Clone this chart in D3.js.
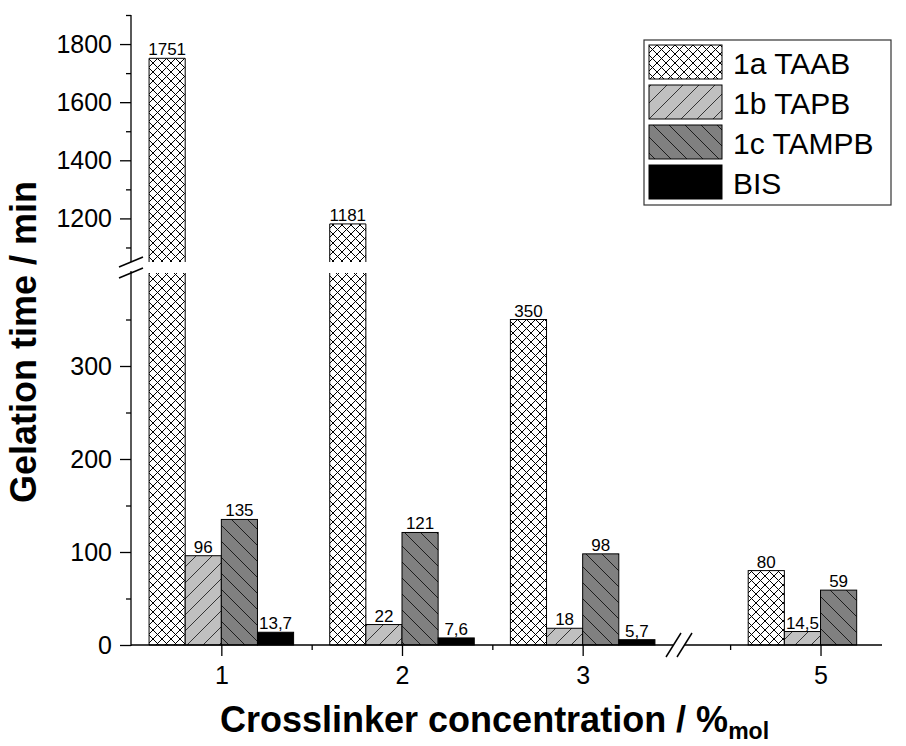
<!DOCTYPE html>
<html>
<head>
<meta charset="utf-8">
<script src="https://cdn.jsdelivr.net/npm/d3@7"></script>
<style>
  body { margin: 0; background: #fff; }
  svg { display: block; font-family: Arial, "Liberation Sans", sans-serif; }
</style>
</head>
<body>
<script>
// data
var concentrations = [1, 2, 3, 5];
var seriesNames = ["1a TAAB", "1b TAPB", "1c TAMPB", "BIS"];
var taab = [1751, 1181, 350, 80];
var tapb = [96, 22, 18, 14.5];
var tampb = [135, 121, 98, 59];
var bis = [13.7, 7.6, 5.7, null];
var lowTicks = [0, 100, 200, 300];
var lowMinor = [50, 150, 250, 350];
var highTicks = [1200, 1400, 1600, 1800];
var highMinor = [1100, 1300, 1500, 1700, 1900];
var xMinor = [1.5, 2.5, 4.5];

var width = 906, height = 746;
var svg = d3.select("body").append("svg")
  .attr("width", width).attr("height", height);

// x axis has a break between 3 and 5
var x = d3.scaleLinear()
  .domain([0.5, 3.5, 4.245, 5.34])
  .range([131, 673, 684, 882]);
// y axis has a break between 400 and 1050
var yLow = d3.scaleLinear().domain([0, 400]).range([645, 273]);
var yHigh = d3.scaleLinear().domain([1050, 1900]).range([262, 15]);
var breakLo = 400, breakHi = 1050;

var barW = 0.2; // in concentration units

var defs = svg.append("defs");
var cross = defs.append("pattern").attr("id", "pCross")
  .attr("patternUnits", "userSpaceOnUse").attr("width", 9).attr("height", 9);
cross.append("rect").attr("width", 9).attr("height", 9).attr("fill", "#fff");
cross.append("path").attr("d", "M0,0L9,9M9,0L0,9")
  .attr("stroke", "#000").attr("stroke-width", 1);

var fwd = defs.append("pattern").attr("id", "pFwd")
  .attr("patternUnits", "userSpaceOnUse").attr("width", 16).attr("height", 16);
fwd.append("rect").attr("width", 16).attr("height", 16).attr("fill", "#c0c0c0");
fwd.append("path").attr("d", "M0,16L16,0M-4,4L4,-4M12,20L20,12")
  .attr("stroke", "#222").attr("stroke-width", 0.9);

var back = defs.append("pattern").attr("id", "pBack")
  .attr("patternUnits", "userSpaceOnUse").attr("width", 16).attr("height", 16);
back.append("rect").attr("width", 16).attr("height", 16).attr("fill", "#808080");
back.append("path").attr("d", "M0,0L16,16M-4,12L4,20M12,-4L20,4")
  .attr("stroke", "#111").attr("stroke-width", 0.9);

var fills = ["url(#pCross)", "url(#pFwd)", "url(#pBack)", "#000"];
var allSeries = [taab, tapb, tampb, bis];

function fmt(v) {
  return String(v).replace(".", ",");
}

var bars = svg.append("g");
allSeries.forEach(function(vals, s) {
  vals.forEach(function(v, i) {
    if (v == null) return;
    var c = concentrations[i];
    var x0 = x(c - 0.4 + s * barW), x1 = x(c - 0.4 + (s + 1) * barW);
    var topY;
    if (v <= breakLo) {
      topY = yLow(v);
      bars.append("rect")
        .attr("x", x0).attr("y", topY)
        .attr("width", x1 - x0).attr("height", yLow(0) - topY)
        .attr("fill", fills[s]).attr("stroke", "#000").attr("stroke-width", 1);
    } else {
      // lower part, open at the top
      bars.append("rect")
        .attr("x", x0).attr("y", yLow(breakLo))
        .attr("width", x1 - x0).attr("height", yLow(0) - yLow(breakLo))
        .attr("fill", fills[s]);
      bars.append("path")
        .attr("d", "M" + x0 + "," + yLow(breakLo) + "V" + yLow(0) + "H" + x1 + "V" + yLow(breakLo))
        .attr("fill", "none").attr("stroke", "#000");
      // upper part, open at the bottom
      topY = yHigh(v);
      bars.append("rect")
        .attr("x", x0).attr("y", topY)
        .attr("width", x1 - x0).attr("height", yHigh(breakHi) - topY)
        .attr("fill", fills[s]);
      bars.append("path")
        .attr("d", "M" + x0 + "," + yHigh(breakHi) + "V" + topY + "H" + x1 + "V" + yHigh(breakHi))
        .attr("fill", "none").attr("stroke", "#000");
    }
    bars.append("text")
      .attr("x", (x0 + x1) / 2).attr("y", topY - 3)
      .attr("text-anchor", "middle")
      .attr("font-size", 17)
      .text(fmt(v));
  });
});

// axes
var axes = svg.append("g").attr("stroke", "#000").attr("stroke-width", 1.3).attr("fill", "none");
// y axis line segments
axes.append("line").attr("x1", 131).attr("x2", 131).attr("y1", yLow(0) + 1).attr("y2", yLow(breakLo) - 2);
axes.append("line").attr("x1", 131).attr("x2", 131).attr("y1", yHigh(breakHi)).attr("y2", yHigh(1900));
// x axis line segments
axes.append("line").attr("x1", x(0.5)).attr("x2", x(3.5)).attr("y1", 645).attr("y2", 645);
axes.append("line").attr("x1", x(4.245)).attr("x2", x(5.34)).attr("y1", 645).attr("y2", 645);

// break marks
var ybrk = svg.append("g").attr("stroke", "#000").attr("stroke-width", 1.5);
[yHigh(breakHi), yLow(breakLo)].forEach(function(yy) {
  ybrk.append("line").attr("x1", 119).attr("y1", yy + 5).attr("x2", 143).attr("y2", yy - 5);
});
[x(3.5), x(4.245)].forEach(function(xx) {
  ybrk.append("line").attr("x1", xx - 7).attr("y1", 657).attr("x2", xx + 8).attr("y2", 633);
});

function styleAxis(g) {
  g.select(".domain").remove();
  g.selectAll(".tick line").attr("stroke", "#000").attr("stroke-width", 1.3);
  g.selectAll("text").attr("font-size", 25).attr("fill", "#000")
    .attr("font-family", "Arial, 'Liberation Sans', sans-serif");
}

var intFmt = d3.format("d");

svg.append("g").attr("transform", "translate(131,0)")
  .call(d3.axisLeft(yLow).tickValues(lowTicks).tickSize(11).tickPadding(8).tickFormat(intFmt))
  .call(styleAxis);
svg.append("g").attr("transform", "translate(131,0)")
  .call(d3.axisLeft(yLow).tickValues(lowMinor).tickSize(5).tickFormat(""))
  .call(styleAxis);
svg.append("g").attr("transform", "translate(131,0)")
  .call(d3.axisLeft(yHigh).tickValues(highTicks).tickSize(11).tickPadding(8).tickFormat(intFmt))
  .call(styleAxis);
svg.append("g").attr("transform", "translate(131,0)")
  .call(d3.axisLeft(yHigh).tickValues(highMinor).tickSize(5).tickFormat(""))
  .call(styleAxis);

svg.append("g").attr("transform", "translate(0,645)")
  .call(d3.axisBottom(x).tickValues(concentrations).tickSize(11).tickPadding(10).tickFormat(intFmt))
  .call(styleAxis);
svg.append("g").attr("transform", "translate(0,645)")
  .call(d3.axisBottom(x).tickValues(xMinor).tickSize(5).tickFormat(""))
  .call(styleAxis);

// axis titles
svg.append("text")
  .attr("transform", "translate(36,342) rotate(-90)")
  .attr("text-anchor", "middle")
  .attr("font-size", 36).attr("font-weight", "bold")
  .text("Gelation time / min");

var xt = svg.append("text")
  .attr("x", 220).attr("y", 732)
  .attr("font-size", 36).attr("font-weight", "bold");
xt.append("tspan").text("Crosslinker concentration / %");
xt.append("tspan").attr("font-size", 23).attr("dy", 7).text("mol");

// legend
var legend = svg.append("g");
legend.append("rect")
  .attr("x", 644).attr("y", 40).attr("width", 247).attr("height", 165)
  .attr("fill", "#fff").attr("stroke", "#333").attr("stroke-width", 1.2);
seriesNames.forEach(function(name, s) {
  var y0 = 45 + s * 40;
  legend.append("rect")
    .attr("x", 649).attr("y", y0).attr("width", 73).attr("height", 34)
    .attr("fill", fills[s]).attr("stroke", "#000").attr("stroke-width", 1);
  legend.append("text")
    .attr("x", 733).attr("y", y0 + 29)
    .attr("font-size", 30)
    .text(name);
});
</script>
</body>
</html>
